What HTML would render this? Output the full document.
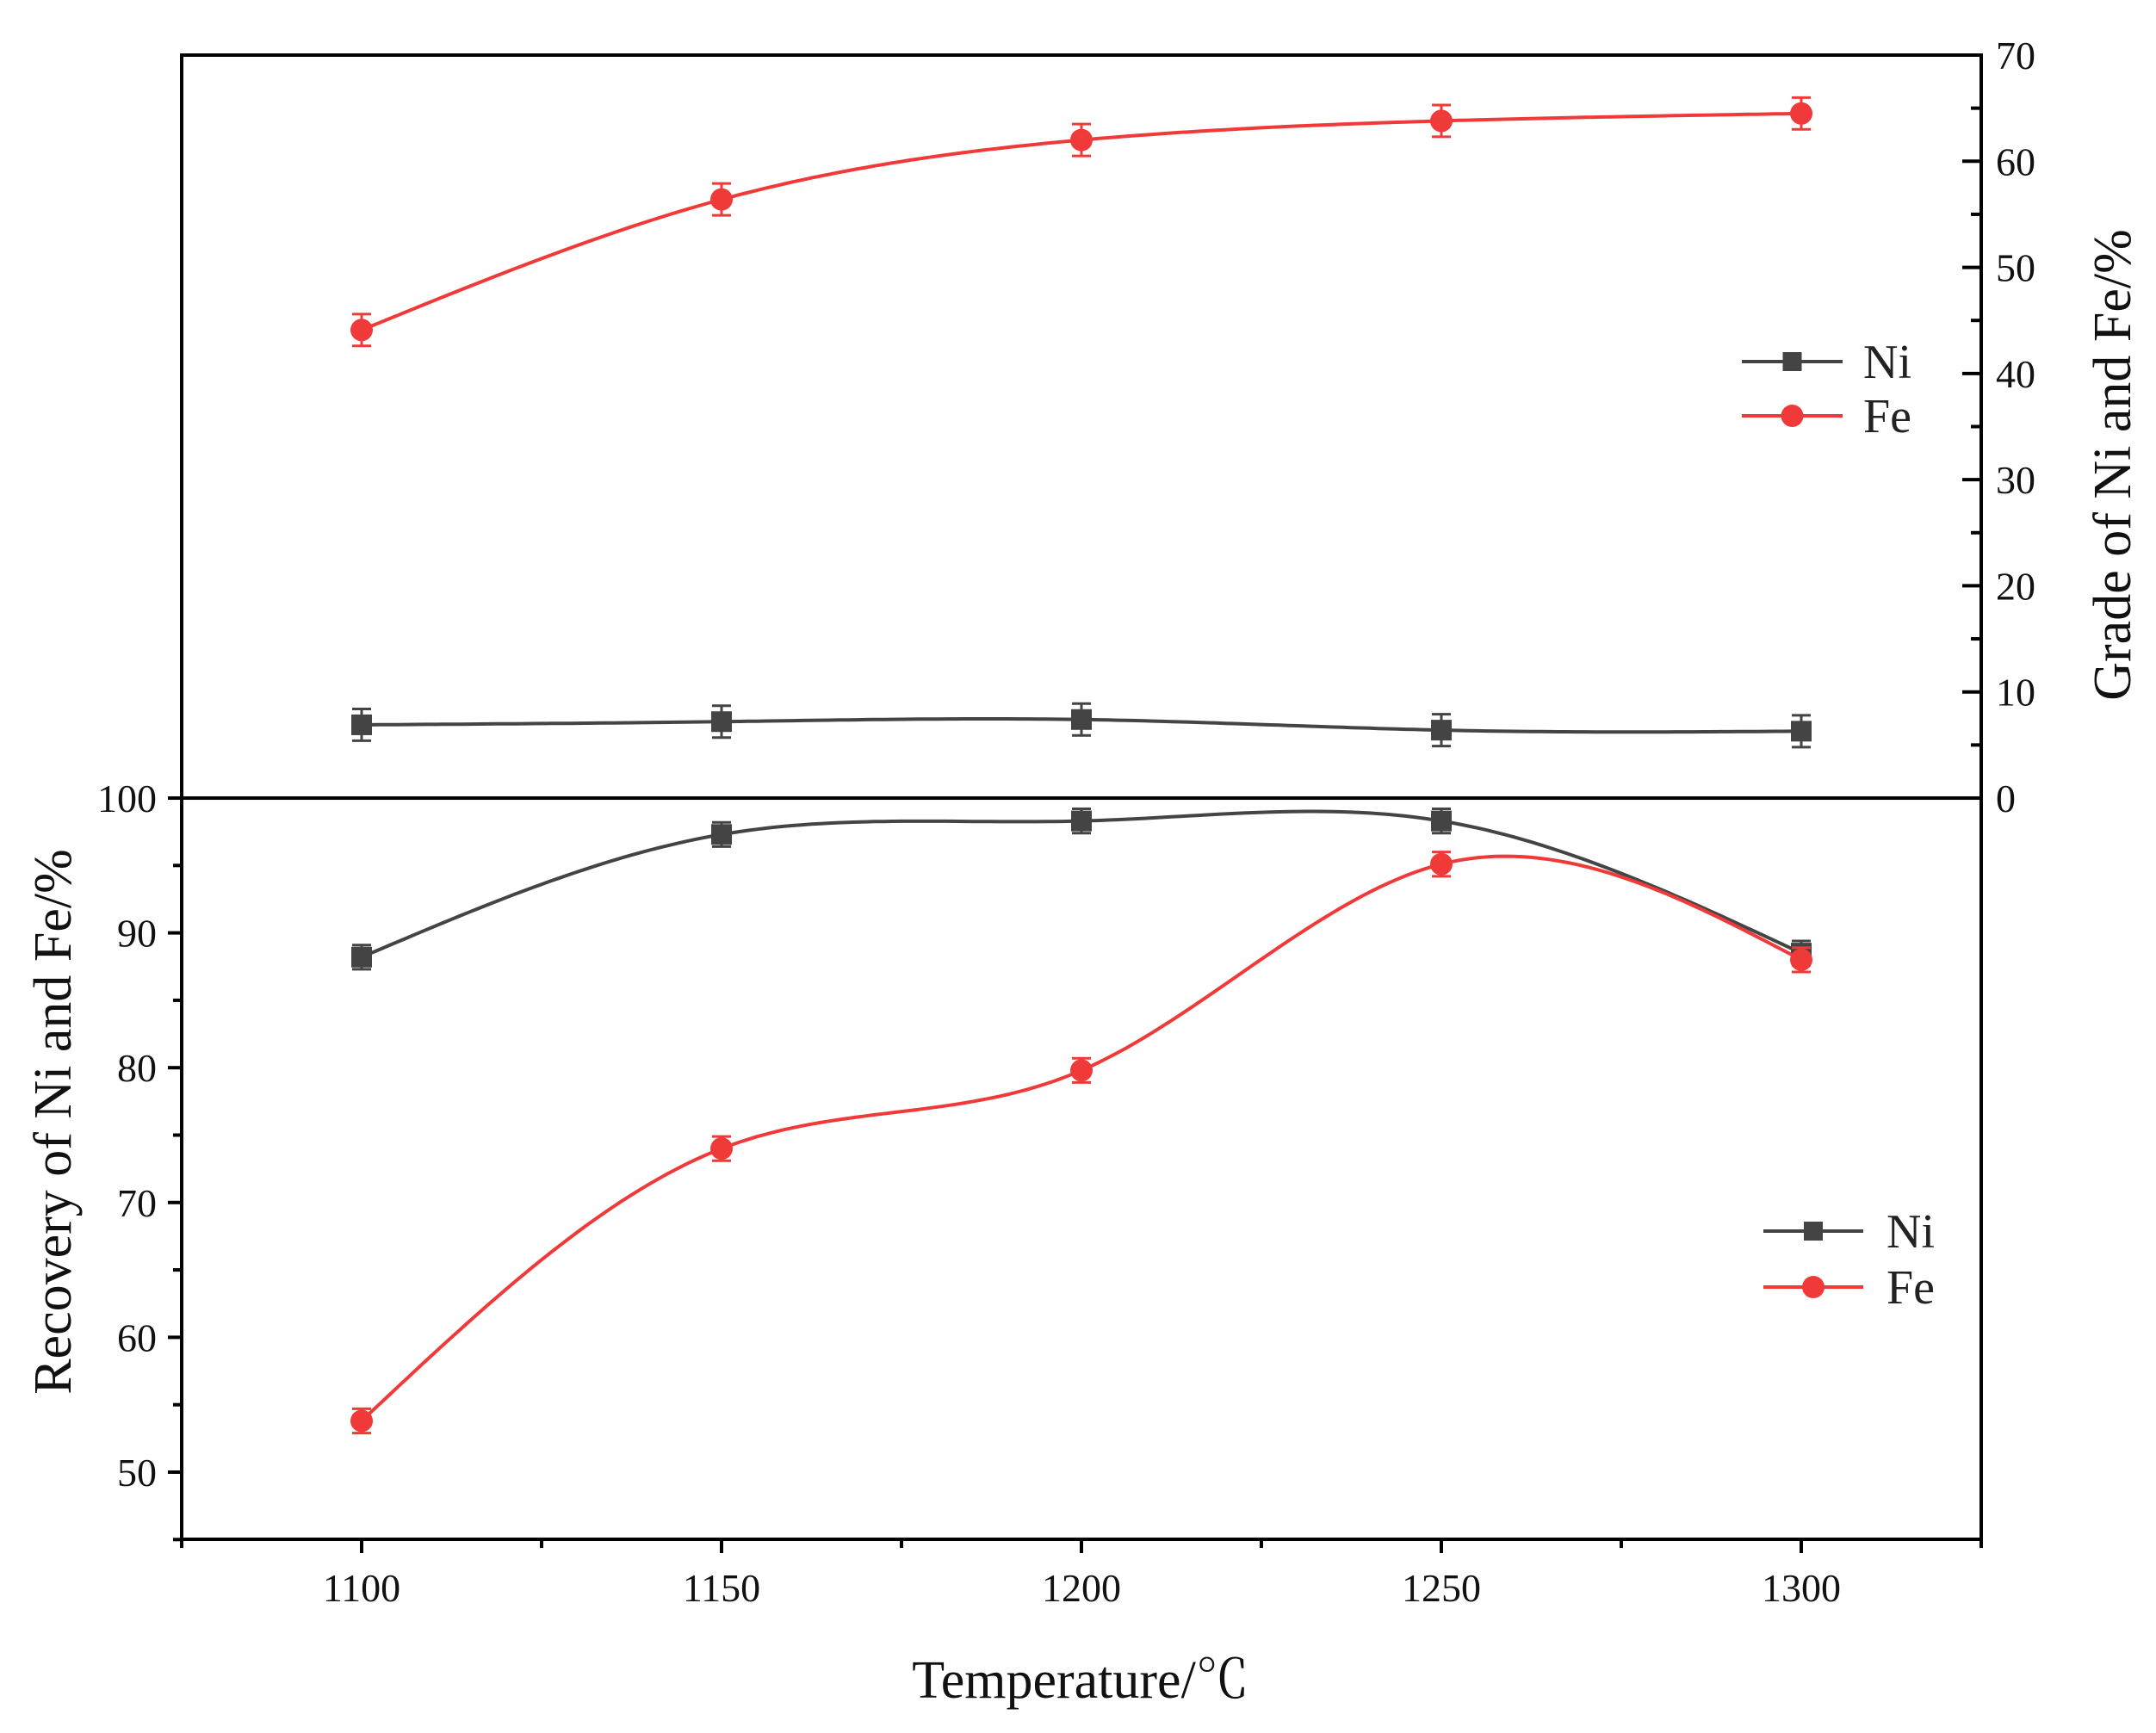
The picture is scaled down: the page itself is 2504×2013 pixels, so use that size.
<!DOCTYPE html>
<html><head><meta charset="utf-8"><style>
html,body{margin:0;padding:0;background:#fff;}
svg{display:block;font-family:"Liberation Serif",serif;}
</style></head><body>
<svg id="chart" width="2504" height="2013" viewBox="0 0 2504 2013" xmlns="http://www.w3.org/2000/svg"></svg>
<script>
const temps = [1100, 1150, 1200, 1250, 1300];
const gradeNi = [6.9, 7.2, 7.4, 6.4, 6.3];
const gradeFe = [44.1, 56.4, 62.0, 63.8, 64.5];
const recNi = [88.2, 97.3, 98.3, 98.3, 88.5];
const recFe = [53.8, 74.0, 79.8, 95.1, 88.0];
const errGrade = [1.5, 1.5, 1.5, 1.5, 1.5];
const errRec = [0.9, 0.9, 0.9, 0.9, 0.9];
const xTicks = [1100, 1150, 1200, 1250, 1300];
const gradeTicks = [0, 10, 20, 30, 40, 50, 60, 70];
const recTicks = [50, 60, 70, 80, 90, 100];

const NS = "http://www.w3.org/2000/svg";
const svg = document.getElementById('chart');
const L = 211, R = 2301, T = 64, M = 927, B = 1788;
const xS = v => 420 + (v - 1100) * (2092 - 420) / 200;
const gS = v => M - v * (M - T) / 70;
const rS = v => M + (100 - v) * (1710 - M) / 50;
function el(tag, attrs, parent) {
  const e = document.createElementNS(NS, tag);
  for (const k in attrs) e.setAttribute(k, attrs[k]);
  (parent || svg).appendChild(e);
  return e;
}
function spline(xs, ys) {
  const n = xs.length, h = [], c = new Array(n).fill(0);
  for (let i = 0; i < n - 1; i++) h.push(xs[i + 1] - xs[i]);
  const al = [0], l = [1], mu = [0], z = [0];
  for (let i = 1; i < n - 1; i++) {
    al[i] = 3 / h[i] * (ys[i + 1] - ys[i]) - 3 / h[i - 1] * (ys[i] - ys[i - 1]);
    l[i] = 2 * (xs[i + 1] - xs[i - 1]) - h[i - 1] * mu[i - 1];
    mu[i] = h[i] / l[i];
    z[i] = (al[i] - h[i - 1] * z[i - 1]) / l[i];
  }
  c[n - 1] = 0;
  for (let j = n - 2; j >= 1; j--) c[j] = z[j] - mu[j] * c[j + 1];
  c[0] = 0;
  const b = [], d = [];
  for (let j = n - 2; j >= 0; j--) {
    b[j] = (ys[j + 1] - ys[j]) / h[j] - h[j] * (c[j + 1] + 2 * c[j]) / 3;
    d[j] = (c[j + 1] - c[j]) / (3 * h[j]);
  }
  let s = '';
  for (let j = 0; j < n - 1; j++) {
    for (let t = 0; t <= 40; t++) {
      const dx = h[j] * t / 40;
      const y = ys[j] + b[j] * dx + c[j] * dx * dx + d[j] * dx * dx * dx;
      s += (s ? 'L' : 'M') + (xs[j] + dx).toFixed(1) + ',' + y.toFixed(1);
    }
  }
  return s;
}
// frames
el('rect', {x: L, y: T, width: R - L, height: B - T, fill: 'none', stroke: '#000', 'stroke-width': 4});
const mid = el('line', {x1: L, y1: M, x2: R, y2: M, stroke: '#000', 'stroke-width': 4});


// x ticks
for (let v = 1075; v <= 1325; v += 25) {
  const major = xTicks.includes(v);
  el('line', {x1: xS(v), y1: B, x2: xS(v), y2: B + (major ? 16 : 10), stroke: '#000', 'stroke-width': 4});
}
xTicks.forEach(v => {
  const t = el('text', {x: xS(v), y: 1860, 'font-size': 46, 'text-anchor': 'middle', fill: '#111'});
  t.textContent = v;
  
  
});
// right grade axis
for (let v = 0; v <= 70; v += 5) {
  const major = v % 10 === 0;
  el('line', {x1: R, y1: gS(v), x2: R - (major ? 22 : 12), y2: gS(v), stroke: '#000', 'stroke-width': 4});
}
gradeTicks.forEach(v => {
  const t = el('text', {x: 2318, y: gS(v) + 16, 'font-size': 46, fill: '#111'});
  t.textContent = v;
  
  
});
// left recovery axis
for (let v = 45; v <= 100; v += 5) {
  const major = v % 10 === 0;
  el('line', {x1: L, y1: rS(v), x2: L - (major ? 16 : 10), y2: rS(v), stroke: '#000', 'stroke-width': 4});
}
recTicks.forEach(v => {
  const t = el('text', {x: 182, y: rS(v) + 16, 'font-size': 46, 'text-anchor': 'end', fill: '#111'});
  t.textContent = v;
  
  
});
// titles
let tt = el('text', {x: 1255, y: 1972, 'font-size': 62, 'text-anchor': 'middle', fill: '#111', 'font-family': '"Liberation Serif","Noto Serif CJK SC",serif'});
tt.textContent = 'Temperature/℃';


tt = el('text', {x: 0, y: 0, 'font-size': 62, 'text-anchor': 'middle', fill: '#111', transform: 'translate(82,1303) rotate(-90)'});
tt.textContent = 'Recovery of Ni and Fe/%';


tt = el('text', {x: 0, y: 0, 'font-size': 62, 'text-anchor': 'middle', fill: '#111', transform: 'translate(2474,540) rotate(-90)'});
tt.textContent = 'Grade of Ni and Fe/%';


// series
function series(vals, errs, yS, color, marker, name) {
  const g = el('g', {});
  
  
  el('path', {d: spline(temps.map(xS), vals.map(yS)), fill: 'none', stroke: color, 'stroke-width': 4}, g);
  vals.forEach((v, i) => {
    const x = xS(temps[i]), y = yS(v), y1 = yS(v + errs[i]), y2 = yS(v - errs[i]);
    el('line', {x1: x, y1: y1, x2: x, y2: y2, stroke: color, 'stroke-width': 3}, g);
    el('line', {x1: x - 11, y1: y1, x2: x + 11, y2: y1, stroke: color, 'stroke-width': 3}, g);
    el('line', {x1: x - 11, y1: y2, x2: x + 11, y2: y2, stroke: color, 'stroke-width': 3}, g);
    const m = marker === 'sq'
      ? el('rect', {x: x - 12, y: y - 12, width: 24, height: 24, fill: color}, g)
      : el('circle', {cx: x, cy: y, r: 13, fill: color}, g);
    
    
  });
}
const NI = '#444', FE = '#f03a3a';
series(gradeNi, errGrade, gS, NI, 'sq', 'grade-ni-series');
series(gradeFe, errGrade, gS, FE, 'ci', 'grade-fe-series');
series(recNi, errRec, rS, NI, 'sq', 'recovery-ni-series');
series(recFe, errRec, rS, FE, 'ci', 'recovery-fe-series');
// legends
function legend(x1, x2, y, color, marker, label, tx, name) {
  const g = el('g', {});
  
  
  el('line', {x1: x1, y1: y, x2: x2, y2: y, stroke: color, 'stroke-width': 4}, g);
  const cx = (x1 + x2) / 2;
  if (marker === 'sq') el('rect', {x: cx - 11, y: y - 11, width: 22, height: 22, fill: color}, g);
  else el('circle', {cx: cx, cy: y, r: 13, fill: color}, g);
  const t = el('text', {x: tx, y: y + 19, 'font-size': 56, fill: '#222'}, g);
  t.textContent = label;
}
legend(2023, 2140, 420, NI, 'sq', 'Ni', 2164, 'top-legend-ni');
legend(2023, 2140, 483, FE, 'ci', 'Fe', 2164, 'top-legend-fe');
legend(2048, 2164, 1430, NI, 'sq', 'Ni', 2191, 'bottom-legend-ni');
legend(2048, 2164, 1495, FE, 'ci', 'Fe', 2191, 'bottom-legend-fe');
</script>
</body></html>
